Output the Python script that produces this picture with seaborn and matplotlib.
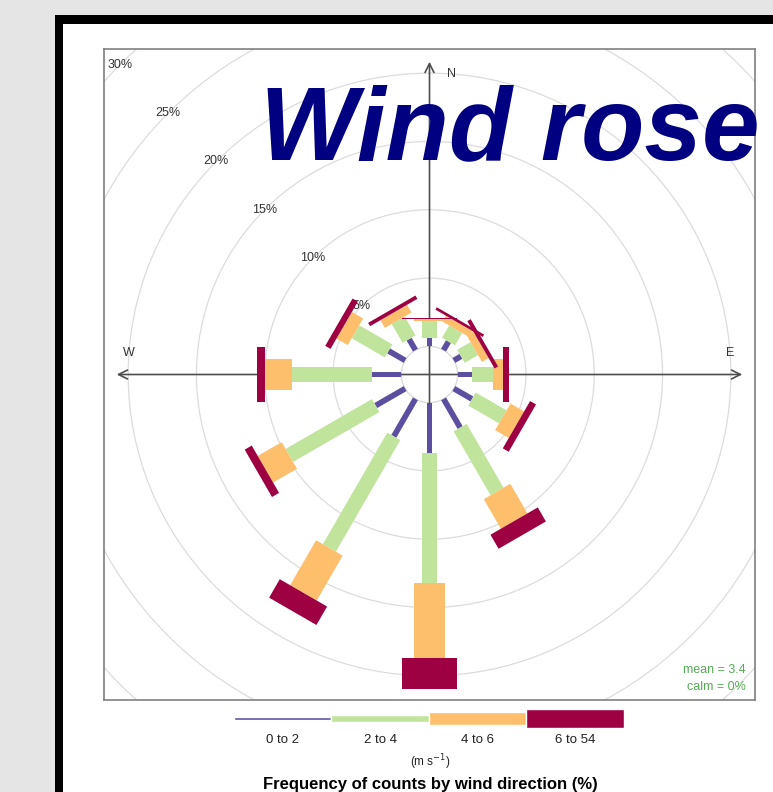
import numpy as np
import pandas as pd
import seaborn as sns
import matplotlib.pyplot as plt
from matplotlib.patches import Polygon, Circle, Rectangle

# frequency (%) of each speed bin by wind direction
directions = [0, 30, 60, 90, 120, 150, 180, 210, 240, 270, 300, 330]
speed_bins = ['0 to 2', '2 to 4', '4 to 6', '6 to 54']
freq_0_2 = [0.62, 0.72, 0.60, 1.02, 1.53, 2.43, 3.67, 3.17, 2.49, 2.17, 1.40, 0.93]
freq_2_4 = [1.22, 1.05, 1.13, 1.59, 2.61, 5.40, 9.57, 9.43, 7.30, 5.85, 2.80, 1.60]
freq_4_6 = [0.15, 0.50, 0.56, 0.73, 1.15, 2.50, 5.44, 3.80, 2.02, 1.98, 0.95, 0.65]
freq_6_54 = [0.10, 0.20, 0.29, 0.44, 0.50, 1.19, 2.32, 1.56, 0.60, 0.54, 0.45, 0.28]
ring_levels = [5, 10, 15, 20, 25, 30]
mean_speed = 3.4
calm_pct = 0

df = pd.DataFrame({'wd': directions, speed_bins[0]: freq_0_2, speed_bins[1]: freq_2_4,
                   speed_bins[2]: freq_4_6, speed_bins[3]: freq_6_54})

colours = ['#5c4f9f', '#c1e49c', '#fdbf6c', '#9e0142']
paddle_w = [0.42, 1.1, 2.25, 4.0]
legend_h = [0.21, 0.40, 0.67, 0.98]
offset = 2.06
lim = 23.83

sns.set_theme(style='white')
plt.rcParams['font.family'] = ['Liberation Sans', 'DejaVu Sans']

fig = plt.figure(figsize=(7.73, 7.92), dpi=100, facecolor='#e5e5e5')
W, H = 773, 792
fig.patches.append(Rectangle((55 / W, -0.1), 1, (H - 15) / H + 0.1, transform=fig.transFigure,
                             facecolor='black', edgecolor='none', zorder=-3))
fig.patches.append(Rectangle((63 / W, -0.1), 1, (H - 24) / H + 0.1, transform=fig.transFigure,
                             facecolor='white', edgecolor='none', zorder=-2))

ax = fig.add_axes([104 / W, 1 - 700 / H, 651 / W, 651 / H])
ax.set_facecolor('white')
ax.set_xlim(-lim, lim)
ax.set_ylim(-lim, lim)
ax.set_xticks([])
ax.set_yticks([])
for s in ax.spines.values():
    s.set_color('#808080')
    s.set_linewidth(1.2)

# grid rings
ax.add_patch(Circle((0, 0), offset, fill=False, ec='#d9d9d9', lw=0.9, zorder=1))
for lev in ring_levels:
    ax.add_patch(Circle((0, 0), offset + lev, fill=False, ec='#dcdcdc', lw=0.9, zorder=1))
    rr = offset + lev
    ax.text(-rr * np.sin(np.pi / 4), rr * np.cos(np.pi / 4), f'{lev}%', ha='center', va='center',
            fontsize=9, color='#333333', zorder=2)

# compass axes
ax.annotate('', xy=(0, 23.1), xytext=(0, -22.8),
            arrowprops=dict(arrowstyle='->', color='#4d4d4d', lw=1.2, mutation_scale=16), zorder=2)
ax.annotate('', xy=(23.1, 0), xytext=(-23.1, 0),
            arrowprops=dict(arrowstyle='<->', color='#4d4d4d', lw=1.2, mutation_scale=16), zorder=2)
ax.text(1.6, 22.0, 'N', ha='center', va='center', fontsize=9, color='#333333')
ax.text(22.0, 1.6, 'E', ha='center', va='center', fontsize=9, color='#333333')
ax.text(-22.0, 1.6, 'W', ha='center', va='center', fontsize=9, color='#333333')

# paddles
for _, row in df.iterrows():
    th = np.deg2rad(row['wd'])
    u = np.array([np.sin(th), np.cos(th)])
    p = np.array([np.cos(th), -np.sin(th)])
    r1 = offset
    for i, b in enumerate(speed_bins):
        r2 = r1 + row[b]
        hw = paddle_w[i] / 2
        pts = [r1 * u - hw * p, r1 * u + hw * p, r2 * u + hw * p, r2 * u - hw * p]
        ax.add_patch(Polygon(pts, closed=True, facecolor=colours[i], edgecolor='none', zorder=3 + i))
        r1 = r2

ax.text(0.986, 0.046, f'mean = {mean_speed}', transform=ax.transAxes, ha='right', va='center',
        fontsize=9, color='#55aa55')
ax.text(0.986, 0.020, f'calm = {calm_pct}%', transform=ax.transAxes, ha='right', va='center',
        fontsize=9, color='#55aa55')

# key below the plot
lax = fig.add_axes([234 / W, 1 - 728 / H, 390 / W, 19 / H])
lax.set_xlim(0, 4)
lax.set_ylim(-0.5, 0.5)
lax.axis('off')
lax.bar(np.arange(4) + 0.5, legend_h, width=1, bottom=[-h / 2 for h in legend_h], color=colours)
for i, b in enumerate(speed_bins):
    fig.text((234 + 97.5 * (i + 0.5)) / W, 1 - 740 / H, b, ha='center', va='center',
             fontsize=9.5, color='#222222')
fig.text(430 / W, 1 - 762 / H, '(m s$^{-1}$)', ha='center', va='center', fontsize=8.5, color='#222222')
fig.text(430 / W, 1 - 784 / H, 'Frequency of counts by wind direction (%)', ha='center', va='center',
         fontsize=12, fontweight='bold', color='black')

fig.text(260 / W, 1 - 159 / H, 'Wind rose', ha='left', va='baseline', fontsize=74.5,
         fontweight='bold', style='italic', color='#000080')

fig.savefig('out.png', dpi=100, facecolor=fig.get_facecolor())
